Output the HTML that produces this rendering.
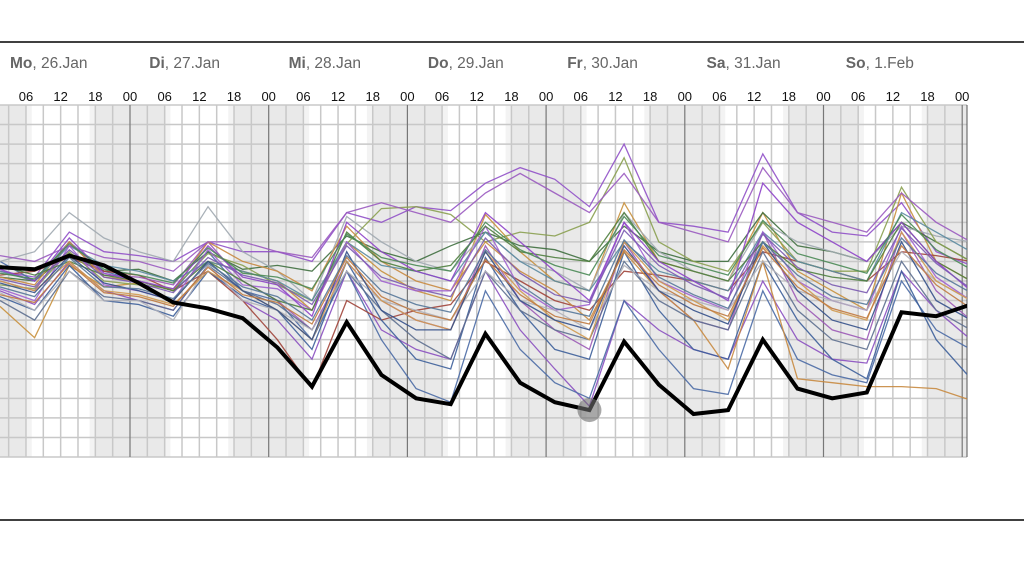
<!DOCTYPE html>
<html><head><meta charset="utf-8"><style>
html,body{margin:0;padding:0;background:#fff;width:1024px;height:587px;overflow:hidden;font-family:"Liberation Sans",sans-serif}
svg{display:block}
</style></head><body>
<svg id="chart" width="1024" height="587" viewBox="0 0 1024 587" xmlns="http://www.w3.org/2000/svg">
<line x1="0" y1="42" x2="1024" y2="42" stroke="#000" stroke-width="1.5"/>
<line x1="0" y1="520" x2="1024" y2="520" stroke="#000" stroke-width="1.5"/>
<g id="bg"></g><g id="grid"></g><g id="labels"></g>
<clipPath id="clip"><rect x="0" y="105" width="967" height="352"/></clipPath>
<g id="series" clip-path="url(#clip)"></g>
</svg>
<script>
const days=["Mo","Di","Mi","Do","Fr","Sa","So"];
const dates=[", 26.Jan",", 27.Jan",", 28.Jan",", 29.Jan",", 30.Jan",", 31.Jan",", 1.Feb"];
const hourTicks=["00","06","12","18"];
const stepHours=[1.5,7.5,13.5,19.5,25.5,31.5,37.5,43.5,49.5,55.5,61.5,67.5,73.5,79.5,85.5,91.5,97.5,103.5,109.5,115.5,121.5,127.5,133.5,139.5,145.5,151.5,157.5,163.5,169.5];
const mainRun=[9.7,9.6,10.3,9.8,8.9,7.9,7.6,7.1,5.6,3.6,6.9,4.2,3.0,2.7,6.3,3.8,2.8,2.4,5.9,3.7,2.2,2.4,6.0,3.5,3.0,3.3,7.4,7.2,7.8];
const m1=[9.5,9.2,11.5,10.5,10.3,10.0,11.0,10.5,10.5,10.0,12.5,12.0,12.8,12.6,14.0,14.8,14.2,12.8,16.0,12.0,11.8,11.5,15.5,12.5,11.5,11.3,13.0,10.5,9.8];
const m2=[8.5,7.8,10.0,8.5,8.0,7.5,9.8,8.0,7.0,5.0,9.5,6.5,5.5,5.0,9.5,6.5,4.5,2.6,8.0,6.5,5.5,5.0,9.0,6.0,5.0,4.8,9.5,7.5,6.0];
const m3=[7.7,6.1,9.8,8.7,8.9,8.0,10.0,9.5,9.0,7.5,11.0,9.5,8.5,8.0,12.4,10.5,9.0,8.5,13.0,10.0,9.5,9.0,12.5,9.5,8.5,7.5,13.5,10.0,9.0];
const m4=[10.0,9.0,11.0,9.5,9.0,8.5,10.5,8.5,8.0,6.0,9.5,6.0,3.5,2.8,8.5,5.5,3.8,3.0,8.0,5.5,3.5,3.2,8.5,5.0,4.2,3.8,9.0,6.5,5.5];
const m5=[9.2,9.0,10.4,9.5,9.6,9.0,10.5,9.6,9.8,9.5,11.3,10.5,10.0,10.8,11.5,10.8,10.6,10.0,11.8,10.5,10.0,10.0,12.5,10.8,10.5,10.0,12.0,11.0,10.0];
const m6=[10.0,10.5,12.5,11.2,10.5,10.0,12.8,10.5,9.5,8.0,12.3,11.0,10.0,9.5,11.5,10.0,9.5,8.5,12.5,10.5,9.5,9.0,12.0,11.0,10.5,10.0,11.8,11.3,11.0];
const m7=[9.3,9.5,10.2,9.5,9.3,8.5,9.5,8.0,6.0,3.5,8.0,7.0,7.5,7.8,10.0,9.0,8.0,7.5,9.5,9.3,9.0,8.5,10.5,10.0,9.5,9.0,10.5,10.3,10.0];
const m8=[8.8,8.6,10.5,9.0,8.8,8.6,10.4,9.8,8.8,8.0,10.9,12.7,12.8,12.4,11.0,11.5,11.3,12.0,15.3,11.0,10.0,9.5,12.0,10.0,9.5,9.5,13.8,11.0,10.0];
const m9=[9.0,8.5,11.0,9.3,9.2,8.8,11.0,9.0,8.0,6.5,10.0,8.0,7.0,6.5,10.8,8.0,6.5,5.5,11.0,8.5,7.0,6.5,11.5,8.0,6.5,6.0,11.5,8.5,7.0];
const m10=[8.2,7.5,9.8,8.0,7.8,7.2,9.5,8.2,7.5,5.5,10.0,7.0,5.0,4.5,10.2,7.5,5.5,5.0,10.5,7.5,5.5,5.0,10.0,7.0,5.0,4.0,9.5,6.0,4.0];
const m11=[9.2,8.8,11.0,9.2,9.0,8.5,11.0,10.0,9.5,8.5,11.8,10.0,9.0,8.5,11.0,9.5,8.5,7.0,10.5,8.5,7.0,4.5,10.0,4.0,3.8,3.6,3.6,3.5,2.9];
const m12=[9.5,9.0,10.8,9.8,9.5,9.0,10.0,9.5,9.0,8.0,11.0,9.8,9.5,9.0,11.5,10.0,9.0,8.5,11.0,9.5,9.0,8.5,11.5,10.0,9.5,9.0,12.5,11.5,10.5];
const m13=[8.6,8.0,10.8,8.8,8.5,8.0,10.6,8.8,8.6,7.5,11.0,9.0,8.5,8.5,11.8,8.6,7.5,7.8,12.0,9.0,8.2,7.5,11.5,9.0,8.0,7.5,11.8,9.2,8.0];
const m14=[9.8,9.3,10.0,9.3,9.0,8.5,10.0,9.0,8.0,7.5,11.5,10.0,9.5,9.8,11.8,10.5,10.2,10.0,12.5,10.0,9.5,9.0,11.0,9.6,9.2,9.0,12.0,10.0,9.0];
const m15=[8.0,7.0,9.5,8.2,8.0,7.5,9.8,8.5,7.8,6.5,9.5,7.5,6.0,5.0,9.5,7.5,6.5,6.0,10.0,8.0,7.0,6.5,10.5,7.5,6.0,5.5,10.0,7.5,6.5];
const m16=[9.6,9.0,11.2,9.4,9.0,8.6,10.8,9.2,8.8,7.2,12.0,10.5,9.5,9.0,12.5,11.0,9.5,8.0,12.0,10.0,9.0,8.0,14.0,12.0,11.0,10.0,12.0,10.0,8.5];
const m17=[8.4,7.5,9.5,8.0,8.0,7.0,9.8,8.0,7.5,6.5,9.5,8.0,7.5,7.0,9.5,8.0,7.5,6.5,9.8,8.5,8.0,7.5,10.0,8.5,8.0,7.5,10.5,9.0,8.0];
const m18=[9.0,8.5,10.0,8.5,8.3,7.8,9.5,8.5,7.5,6.0,10.0,8.0,7.0,6.5,10.5,8.5,7.0,6.0,11.0,9.0,8.0,7.0,10.8,9.0,7.5,7.0,11.5,9.0,8.0];
const m19=[10.3,10.0,10.8,10.2,10.0,9.5,11.0,11.0,10.5,10.2,12.5,13.0,12.5,12.0,13.5,14.5,13.5,12.5,14.5,12.0,11.5,11.0,14.8,12.5,12.0,11.5,13.5,12.0,11.0];
const m20=[8.9,8.4,10.3,8.9,8.5,8.0,10.0,8.5,7.5,6.0,10.5,7.5,6.5,6.5,10.5,8.0,7.0,6.5,10.8,8.5,7.5,6.8,11.0,8.5,7.0,6.5,11.0,8.0,7.0];
const m21=[9.1,8.7,10.6,9.2,8.9,8.4,10.2,9.3,8.9,7.8,10.8,9.2,8.6,8.2,11.2,9.4,8.3,7.9,11.6,9.8,8.8,8.1,11.4,9.7,8.8,8.4,11.7,9.9,8.6];
const m22=[8.7,8.2,10.2,8.7,8.6,8.1,9.9,8.7,8.2,7.0,10.3,8.5,7.8,7.4,10.6,8.8,7.6,7.2,11.1,9.2,8.3,7.6,11.0,9.3,8.2,7.8,11.2,9.4,8.4];
const m23=[9.4,9.1,10.9,9.6,9.3,8.9,10.7,9.4,9.2,8.6,11.4,10.2,9.8,9.5,12.0,10.6,9.8,9.3,12.3,10.3,9.8,9.3,12.1,10.4,9.9,9.4,12.4,10.6,9.6];
const m24=[8.3,7.9,9.9,8.4,8.2,7.7,9.7,8.3,7.9,6.8,10.2,8.2,7.4,7.0,10.1,8.3,7.2,6.8,10.6,8.8,7.8,7.2,10.7,8.7,7.6,7.1,10.8,8.8,7.6];
const members=[m1,m2,m3,m4,m5,m6,m7,m8,m9,m10,m11,m12,m13,m14,m15,m16,m17,m18,m19,m20,m21,m22,m23,m24];
const colors=["#9050c8","#8a4fc0","#c8903c","#4a6aa5","#3f6f3f","#a0a8b0","#a0443a","#8aa050","#9b59b6","#3d5f9a","#c88a40","#5a8aa0","#a060d0","#4f7f3f","#5d6f8f","#8e44c9","#b0b0b8","#d09a50","#9a5ac0","#34508a","#7a5ab0","#557799","#4a8a55","#c07a40"];
const highlightIndex=17;
const NS="http://www.w3.org/2000/svg";
const X0=-8.7, PXH=138.7/24, TOP=105, BOT=457, ROWS=18, RIGHT=967;
function xs(h){return X0+h*PXH;}
function ys(v){return BOT-v*(BOT-TOP)/ROWS;}
function mk(tag,attrs,parent){const e=document.createElementNS(NS,tag);for(const k in attrs)e.setAttribute(k,attrs[k]);parent.appendChild(e);return e;}
const bg=document.getElementById('bg'),grid=document.getElementById('grid'),lab=document.getElementById('labels'),ser=document.getElementById('series');
mk('rect',{x:0,y:TOP,width:RIGHT,height:BOT-TOP,fill:'#fff'},bg);
for(let d=-1;d<8;d++){
  const segs=[[d*24+17,d*24+18,'#f3f3f3'],[d*24+18,d*24+30,'#e9e9e9'],[d*24+30,d*24+31,'#f3f3f3']];
  segs.forEach(s=>{let a=Math.max(0,xs(s[0])),b=Math.min(RIGHT,xs(s[1]));if(b>a){const r=mk('rect',{x:a,y:TOP,width:b-a,height:BOT-TOP,fill:s[2]},bg);

}});
}
for(let r=0;r<=ROWS;r++){const l=mk('line',{x1:0,x2:RIGHT,y1:ys(r),y2:ys(r),stroke:'#c8c8c8','stroke-width':1.5},grid);

}
for(let h=0;h<=171;h+=3){const x=xs(h);if(x<0||x>RIGHT)continue;const day=h%24===0;
const l=mk('line',{x1:x,x2:x,y1:TOP,y2:BOT,stroke:day?'#777':'#c8c8c8','stroke-width':day?1.2:1.5},grid);


if(h%6===0){const t=mk('text',{x:x,y:101,'text-anchor':'middle','font-size':13,fill:'#111'},lab);t.textContent=hourTicks[(h%24)/6];

}}
mk('line',{x1:RIGHT,x2:RIGHT,y1:TOP,y2:BOT,stroke:'#555','stroke-width':1},grid);
days.forEach((d,i)=>{const t=mk('text',{x:10+i*139.3,y:68,'font-size':15.5,fill:'#666'},lab);


const b=mk('tspan',{'font-weight':'bold'},t);b.textContent=d;const s=mk('tspan',{},t);s.textContent=dates[i];});
function pts(arr){return arr.map((v,i)=>xs(stepHours[i]).toFixed(1)+','+ys(v).toFixed(1)).join(' ');}
members.forEach((m,i)=>{const p=mk('polyline',{points:pts(m),fill:'none',stroke:colors[i],'stroke-width':1.3,'stroke-opacity':0.9},ser);

});
const mainLine=mk('polyline',{points:pts(mainRun),fill:'none',stroke:'#000','stroke-width':4,'stroke-linejoin':'miter'},ser);


const dot=mk('circle',{cx:xs(stepHours[highlightIndex]),cy:ys(mainRun[highlightIndex]),r:12,fill:'rgba(110,110,110,0.6)'},document.getElementById('chart'));


</script>
</body></html>
